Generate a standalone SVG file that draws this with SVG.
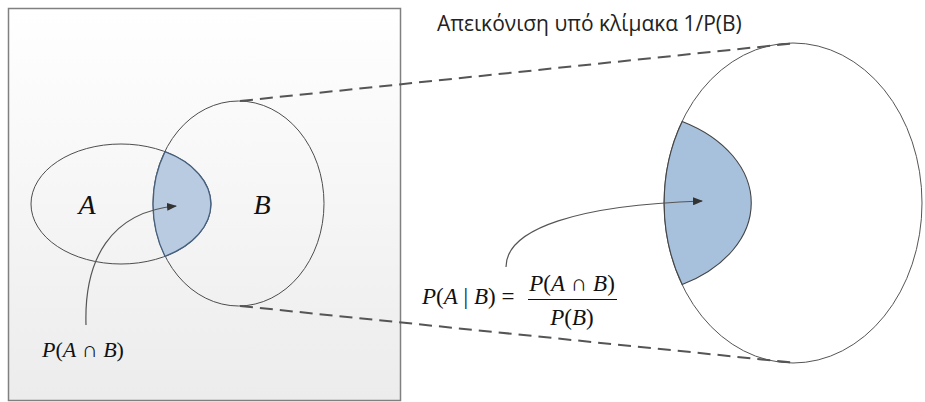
<svg xmlns="http://www.w3.org/2000/svg" width="925" height="402" viewBox="0 0 925 402">
<style>
.outline{fill:none;stroke:#4d4d4d;stroke-width:1}
.dash{fill:none;stroke:#555;stroke-width:2;stroke-dasharray:13 7}
.arrow{fill:none;stroke:#555;stroke-width:1.2;marker-end:url(#ah)}
.title{font-family:"Open Sans","Liberation Sans",sans-serif;font-size:21px;fill:#222}
.math{font-family:"Liberation Serif","Times New Roman",serif;fill:#111}
.it{font-style:italic}
</style>
<defs>
<linearGradient id="bg" x1="0" y1="0" x2="0" y2="1">
<stop offset="0" stop-color="#ffffff"/>
<stop offset="1" stop-color="#ececec"/>
</linearGradient>
<marker id="ah" markerWidth="10" markerHeight="8" refX="9" refY="4" orient="auto" markerUnits="userSpaceOnUse">
<path d="M0,0 L10,4 L0,8 Z" fill="#333"/>
</marker>
</defs>
<rect width="925" height="402" fill="#fff"/>
<g id="frame">
<rect x="8.5" y="8.5" width="392" height="392" fill="url(#bg)" stroke="#808080" stroke-width="1.5"/>
</g>
<g id="setA">
<ellipse cx="121" cy="204" rx="90" ry="60" class="outline"/>
<text x="87" y="214" class="math it" font-size="28" text-anchor="middle">A</text>
</g>
<g id="setB">
<ellipse cx="238.5" cy="203.5" rx="85.5" ry="102.5" class="outline"/>
<text x="262" y="214" class="math it" font-size="28" text-anchor="middle">B</text>
</g>
<g id="intersection">
<path d="M165,151.7 A85.5,102.5 0 0 0 165,256.3 A90,60 0 0 0 165,151.7 Z" fill="#b9cbe0" stroke="#46607e" stroke-width="1.3"/>
</g>
<g id="scaledB">
<ellipse cx="793" cy="203" rx="129" ry="160" fill="#fff" stroke="#555" stroke-width="1"/>
</g>
<g id="scaledIntersection">
<path d="M682.2,121.4 A129,160 0 0 0 682.2,284.6 A135.8,93.7 0 0 0 682.2,121.4 Z" fill="#a7c1dc" stroke="#444" stroke-width="1.1"/>
</g>
<g id="connectors">
<line x1="240" y1="101" x2="797" y2="43" class="dash"/>
<line x1="240" y1="306" x2="797" y2="363" class="dash"/>
<path d="M86,325 C84,260 110,212 176,206" class="arrow"/>
<path d="M506,267 C506,228 580,205 702,201" class="arrow"/>
</g>
<g id="labelPAB" class="math" font-size="22">
<text x="42" y="357"><tspan class="it">P</tspan>(<tspan class="it">A</tspan> ∩ <tspan class="it">B</tspan>)</text>
</g>
<g id="labelConditional" class="math" font-size="23">
<text x="422" y="304"><tspan class="it">P</tspan>(<tspan class="it">A</tspan> | <tspan class="it">B</tspan>) =</text>
<text x="572" y="291" text-anchor="middle"><tspan class="it">P</tspan>(<tspan class="it">A</tspan> ∩ <tspan class="it">B</tspan>)</text>
<line x1="528" y1="299.5" x2="617" y2="299.5" stroke="#111" stroke-width="1"/>
<text x="572" y="325" text-anchor="middle"><tspan class="it">P</tspan>(<tspan class="it">B</tspan>)</text>
</g>
<g id="title">
<text x="437" y="31" class="title">Απεικόνιση υπό κλίμακα 1/P(B)</text>
</g>
</svg>
